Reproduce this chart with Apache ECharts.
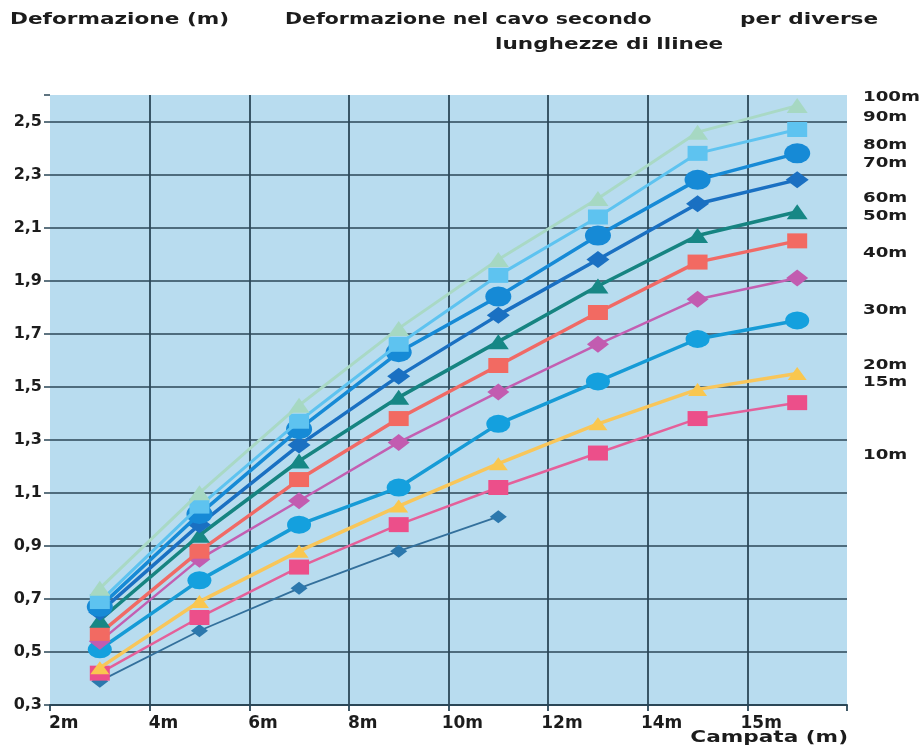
<!DOCTYPE html>
<html>
<head>
<meta charset="utf-8">
<script src="https://cdn.jsdelivr.net/npm/echarts@6/dist/echarts.min.js"></script>
<style>html,body{margin:0;padding:0;background:#fff}#c{width:924px;height:749px}</style>
</head>
<body>
<div id="c"></div>
<script>
// ---- data ----
const categories = ['2m', '4m', '6m', '8m', '10m', '12m', '14m', '15m'];
const lengthNames = ['10m', '15m', '20m', '30m', '40m', '50m', '60m', '70m', '80m', '90m', '100m'];
const s10  = [0.39, 0.58, 0.74, 0.88, 1.01, null, null, null];
const s15  = [0.42, 0.63, 0.82, 0.98, 1.12, 1.25, 1.38, 1.44];
const s20  = [0.44, 0.69, 0.88, 1.05, 1.21, 1.36, 1.49, 1.55];
const s30  = [0.51, 0.77, 0.98, 1.12, 1.36, 1.52, 1.68, 1.75];
const s40  = [0.54, 0.85, 1.07, 1.29, 1.48, 1.66, 1.83, 1.91];
const s50  = [0.57, 0.88, 1.15, 1.38, 1.58, 1.78, 1.97, 2.05];
const s60  = [0.62, 0.94, 1.22, 1.46, 1.67, 1.88, 2.07, 2.16];
const s70  = [0.65, 0.98, 1.28, 1.54, 1.77, 1.98, 2.19, 2.28];
const s80  = [0.67, 1.02, 1.34, 1.63, 1.84, 2.07, 2.28, 2.38];
const s90  = [0.69, 1.05, 1.37, 1.66, 1.92, 2.14, 2.38, 2.47];
const s100 = [0.74, 1.10, 1.43, 1.72, 1.98, 2.21, 2.46, 2.56];
const titleLeft = 'Deformazione (m)';
const titleMain1 = 'Deformazione nel cavo secondo';
const titleMain2 = 'per diverse';
const titleMain3 = 'lunghezze di llinee';
const xName = 'Campata (m)';

// ---- styles ----
const seriesData = [s10, s15, s20, s30, s40, s50, s60, s70, s80, s90, s100];
const styles = [
  {color: '#2c78ad', line: '#33709c', symbol: 'diamond', size: [17, 13], width: 1.8},
  {color: '#ec4f8a', line: '#e4609a', symbol: 'rect', size: [20, 15], width: 2.5},
  {color: '#f9c74f', line: '#f8c65a', symbol: 'triangle', size: [19, 13], width: 3.5},
  {color: '#14a0de', line: '#169bd6', symbol: 'circle', size: [24, 18], width: 3.5},
  {color: '#c25cb0', line: '#c35fb2', symbol: 'diamond', size: [22, 17], width: 2.5},
  {color: '#f26a62', line: '#f06a66', symbol: 'rect', size: [20, 15], width: 3.5},
  {color: '#168785', line: '#168481', symbol: 'triangle', size: [21, 15], width: 3.5},
  {color: '#1a70c2', line: '#1a70c2', symbol: 'diamond', size: [23, 17], width: 3.5},
  {color: '#168ad6', line: '#168ad6', symbol: 'circle', size: [26, 20], width: 3.5},
  {color: '#5ec3f0', line: '#5ec3f0', symbol: 'rect', size: [20, 15], width: 3},
  {color: '#a6d8c2', line: '#a9d9c5', symbol: 'triangle', size: [21, 15], width: 3}
];
const rightLabelY = [455, 382, 365, 310, 253, 216, 198, 163, 145, 117, 97];
const txt = '#1c1c1c';
const fontFam = 'DejaVu Sans';
const grid = '#2b4757';

const series = seriesData.map((d, i) => ({
  name: lengthNames[i],
  type: 'line',
  data: d,
  symbol: styles[i].symbol,
  symbolSize: styles[i].size,
  itemStyle: {color: styles[i].color},
  lineStyle: {color: styles[i].line, width: styles[i].width},
  z: 3 + i,
  animation: false
}));

const gText = (text, x, y, size, align, sx) => ({
  type: 'text', x: x, y: y, scaleX: sx, scaleY: 1,
  style: {text: text, fill: txt, font: 'bold ' + size + 'px "' + fontFam + '"', textAlign: align, textVerticalAlign: 'middle'}
});

const graphics = [
  gText(titleLeft, 10, 20, 16, 'left', 1.35),
  gText(titleMain1, 285, 20, 16, 'left', 1.28),
  gText(titleMain2, 740, 20, 16, 'left', 1.35),
  gText(titleMain3, 495, 45, 16, 'left', 1.35),
  gText(xName, 848, 738, 16, 'right', 1.35)
];
lengthNames.forEach((n, i) => graphics.push(gText(n, 863, rightLabelY[i], 14, 'left', 1.3)));

const chart = echarts.init(document.getElementById('c'), null, {renderer: 'canvas'});
chart.setOption({
  animation: false,
  backgroundColor: '#ffffff',
  grid: {left: 50, right: 77, top: 95, bottom: 44, show: true, backgroundColor: '#b8dcef', borderWidth: 0},
  xAxis: {
    type: 'category',
    data: categories,
    boundaryGap: true,
    axisLine: {show: true, lineStyle: {color: grid, width: 2}},
    axisTick: {show: true, length: 6, lineStyle: {color: grid, width: 1.8}},
    axisLabel: {color: txt, fontFamily: fontFam, fontWeight: 'bold', fontSize: 17, margin: 10, padding: [0, 72, 0, 0]},
    splitLine: {show: true, showMinLine: false, showMaxLine: false, lineStyle: {color: grid, width: 1.8}}
  },
  yAxis: {
    type: 'value',
    min: 0.3, max: 2.6, interval: 0.2,
    axisLine: {show: false},
    axisTick: {show: true, length: 6, lineStyle: {color: grid, width: 1.5}},
    axisLabel: {
      color: txt, fontFamily: fontFam, fontWeight: 'bold', fontSize: 16, margin: 8,
      formatter: v => (Math.abs(v - 2.6) < 1e-6 ? '' : (Math.round(v * 10) / 10).toFixed(1).replace('.', ','))
    },
    splitLine: {show: true, showMaxLine: false, lineStyle: {color: grid, width: 1.5}}
  },
  series: series,
  graphic: graphics
});
</script>
</body>
</html>
